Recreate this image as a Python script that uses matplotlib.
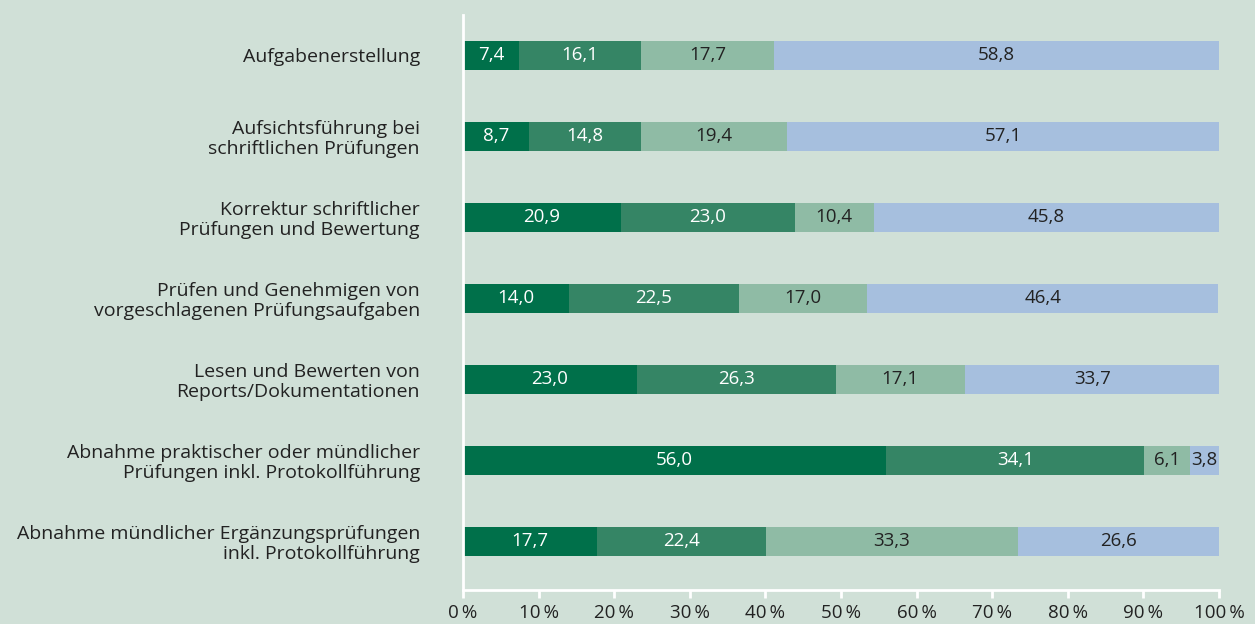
import matplotlib
matplotlib.use('Agg')
import matplotlib.pyplot as plt
import numpy as np

# Data
categories = [
    'Aufgabenerstellung',
    'Aufsichtsführung bei\nschriftlichen Prüfungen',
    'Korrektur schriftlicher\nPrüfungen und Bewertung',
    'Prüfen und Genehmigen von\nvorgeschlagenen Prüfungsaufgaben',
    'Lesen und Bewerten von\nReports/Dokumentationen',
    'Abnahme praktischer oder mündlicher\nPrüfungen inkl. Protokollführung',
    'Abnahme mündlicher Ergänzungsprüfungen\ninkl. Protokollführung',
]
series_1 = [7.4, 8.7, 20.9, 14.0, 23.0, 56.0, 17.7]
series_2 = [16.1, 14.8, 23.0, 22.5, 26.3, 34.1, 22.4]
series_3 = [17.7, 19.4, 10.4, 17.0, 17.1, 6.1, 33.3]
series_4 = [58.8, 57.1, 45.8, 46.4, 33.7, 3.8, 26.6]
x_ticks = [0, 10, 20, 30, 40, 50, 60, 70, 80, 90, 100]

colors = ['#00704a', '#358565', '#8fbba5', '#a6bfde']
text_colors = ['white', 'white', '#222222', '#222222']
bg = '#d0e0d7'

plt.rcParams['font.family'] = ['Open Sans', 'DejaVu Sans']


def plot():
    fig = plt.figure(figsize=(12.55, 6.24), dpi=100, facecolor=bg)
    ax = fig.add_axes([463 / 1255, 1 - 590 / 624, (1219 - 463) / 1255, (590 - 15) / 624])
    ax.set_facecolor(bg)

    y = np.arange(len(categories))
    left = np.zeros(len(categories))
    for vals, c, tc in zip([series_1, series_2, series_3, series_4], colors, text_colors):
        vals = np.array(vals)
        ax.barh(y, vals, left=left, height=0.35, color=c, linewidth=0)
        for yi, l, v in zip(y, left, vals):
            ax.text(l + v / 2, yi, f'{v:.1f}'.replace('.', ','), ha='center', va='center',
                    color=tc, fontsize=13.5)
        left += vals

    ax.set_xlim(0, 100)
    ax.set_ylim(6.6, -0.5)
    ax.set_yticks(y)
    ax.set_yticklabels(categories, fontsize=14, color='#222222', linespacing=1.1)
    ax.tick_params(axis='y', length=0, pad=31)
    ax.set_xticks(x_ticks)
    ax.set_xticklabels([f'{t}\u2009%' for t in x_ticks], fontsize=13.5, color='#222222')
    ax.tick_params(axis='x', length=6, width=2, color='white', pad=4)

    for s in ['top', 'right']:
        ax.spines[s].set_visible(False)
    for s in ['left', 'bottom']:
        ax.spines[s].set_color('white')
        ax.spines[s].set_linewidth(2)

    fig.savefig('out.png', dpi=100, facecolor=bg)


if __name__ == '__main__':
    plot()
